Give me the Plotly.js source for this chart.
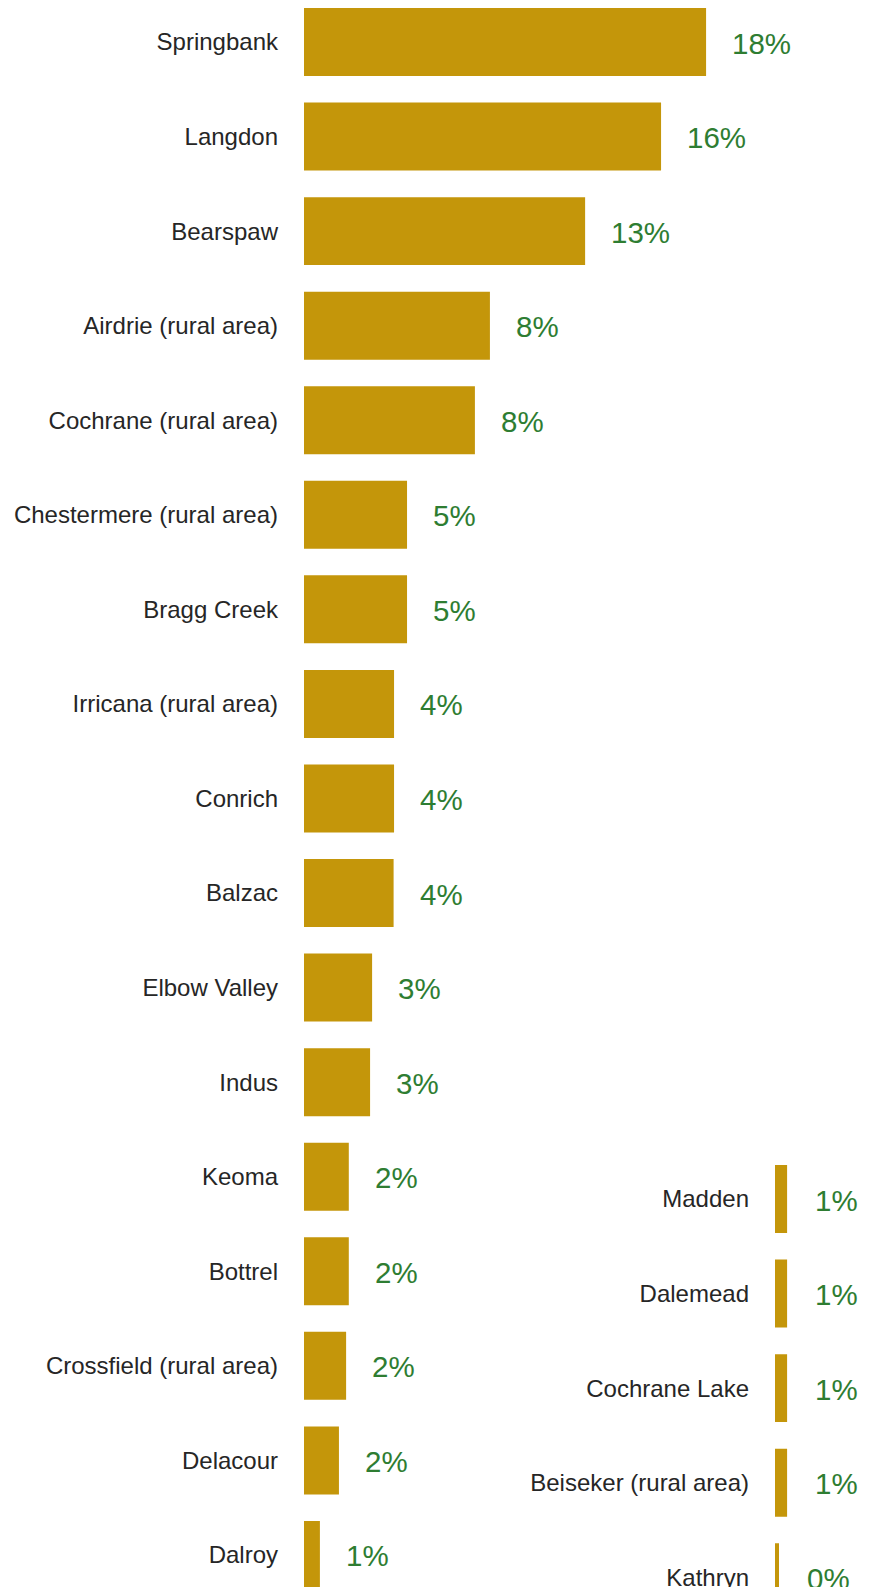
<!DOCTYPE html>
<html>
<head>
<meta charset="utf-8">
<script src="https://cdn.plot.ly/plotly-3.0.1.min.js"></script>
<style>html,body{margin:0;padding:0;background:#fff;}#chart{width:871px;height:1587px;}</style>
</head>
<body>
<div id="chart"></div>
<script>
// Left panel
const leftCategories = ["Springbank","Langdon","Bearspaw","Airdrie (rural area)","Cochrane (rural area)",
  "Chestermere (rural area)","Bragg Creek","Irricana (rural area)","Conrich","Balzac","Elbow Valley",
  "Indus","Keoma","Bottrel","Crossfield (rural area)","Delacour","Dalroy"];
const leftValues = [17.95,15.94,12.55,8.3,7.63,4.6,4.6,4.02,4.02,4.0,3.04,2.95,2.0,2.0,1.88,1.56,0.71];
const leftLabels = ["18%","16%","13%","8%","8%","5%","5%","4%","4%","4%","3%","3%","2%","2%","2%","2%","1%"];

// Right panel
const rightCategories = ["Madden","Dalemead","Cochrane Lake","Beiseker (rural area)","Kathryn"];
const rightValues = [0.54,0.54,0.54,0.54,0.18];
const rightLabels = ["1%","1%","1%","1%","0%"];

const W = 871, H = 1587;
const pxPerUnit = 22.4;
const barColor = "#C4960A";
const labelGreen = "#2E7D32";
const textDark = "#262626";

const leftX0 = 304, leftX1 = 760;
const rightX0 = 775, rightX1 = 871;
const pitch = 94.56;
const leftC0 = 42;
const rightC0 = 1199;

const traces = [
  {type:"bar", orientation:"h", x:leftValues, y:leftCategories, xaxis:"x", yaxis:"y",
   marker:{color:barColor}, hoverinfo:"none"},
  {type:"bar", orientation:"h", x:rightValues, y:rightCategories, xaxis:"x2", yaxis:"y2",
   marker:{color:barColor}, hoverinfo:"none"}
];

const annotations = [];
leftValues.forEach((v,i)=>annotations.push({x:v, y:leftCategories[i], xref:"x", yref:"y",
  text:leftLabels[i], showarrow:false, xanchor:"left", xshift:24, yshift:-1,
  font:{family:"Liberation Sans, Arial, sans-serif", size:29.5, color:labelGreen}}));
rightValues.forEach((v,i)=>annotations.push({x:v, y:rightCategories[i], xref:"x2", yref:"y2",
  text:rightLabels[i], showarrow:false, xanchor:"left", xshift:26, yshift:-1,
  font:{family:"Liberation Sans, Arial, sans-serif", size:29.5, color:labelGreen}}));

const tickFont = {family:"Liberation Sans, Arial, sans-serif", size:24, color:textDark};

const layout = {
  width:W, height:H,
  margin:{l:0,r:0,t:0,b:0},
  paper_bgcolor:"#fff", plot_bgcolor:"rgba(0,0,0,0)",
  showlegend:false,
  bargap:0.281,
  xaxis:{domain:[leftX0/W, leftX1/W], range:[0,(leftX1-leftX0)/pxPerUnit], visible:false, fixedrange:true},
  yaxis:{domain:[0,1], anchor:"x", type:"category", categoryorder:"array", categoryarray:leftCategories,
    range:[(H-leftC0)/pitch, -leftC0/pitch], showgrid:false, zeroline:false, showline:false,
    ticks:"", tickfont:tickFont, ticklabelstandoff:25, automargin:false, fixedrange:true},
  xaxis2:{domain:[rightX0/W, rightX1/W], range:[0,(rightX1-rightX0)/pxPerUnit], visible:false, anchor:"y2", fixedrange:true},
  yaxis2:{domain:[0,1], anchor:"x2", type:"category", categoryorder:"array", categoryarray:rightCategories,
    range:[(H-rightC0)/pitch, -rightC0/pitch], showgrid:false, zeroline:false, showline:false,
    ticks:"", tickfont:tickFont, ticklabelstandoff:25, automargin:false, fixedrange:true},
  annotations:annotations
};

Plotly.newPlot("chart", traces, layout, {staticPlot:true, displayModeBar:false});
</script>
</body>
</html>
